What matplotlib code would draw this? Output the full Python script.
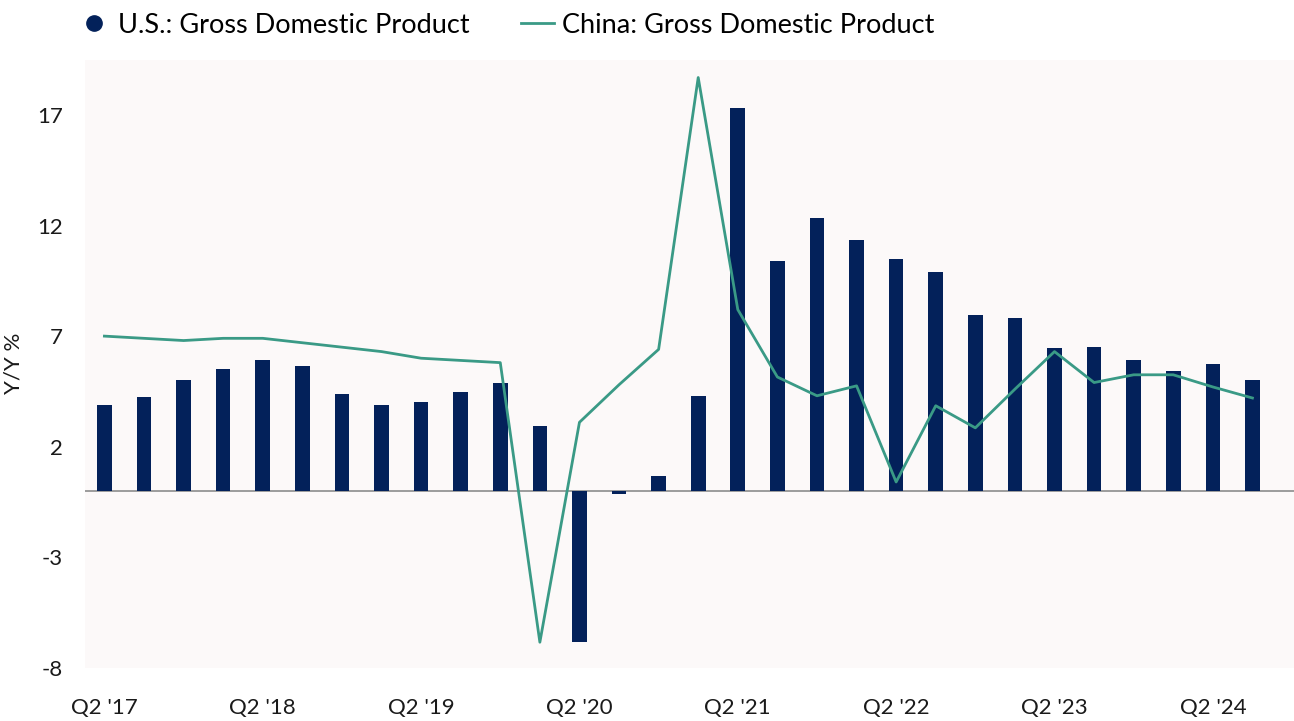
import matplotlib.pyplot as plt
from matplotlib.lines import Line2D

plt.rcParams['font.family'] = ['Lato', 'DejaVu Sans']
plt.rcParams['axes.unicode_minus'] = False

quarters = ["Q2 '17", "Q3 '17", "Q4 '17", "Q1 '18", "Q2 '18", "Q3 '18", "Q4 '18", "Q1 '19",
            "Q2 '19", "Q3 '19", "Q4 '19", "Q1 '20", "Q2 '20", "Q3 '20", "Q4 '20", "Q1 '21",
            "Q2 '21", "Q3 '21", "Q4 '21", "Q1 '22", "Q2 '22", "Q3 '22", "Q4 '22", "Q1 '23",
            "Q2 '23", "Q3 '23", "Q4 '23", "Q1 '24", "Q2 '24", "Q3 '24"]

us_gdp = [3.9, 4.25, 5.0, 5.5, 5.9, 5.65, 4.4, 3.9, 4.0, 4.45, 4.9, 2.95, -6.85, -0.15, 0.65, 4.3,
          17.3, 10.4, 12.35, 11.35, 10.5, 9.9, 7.95, 7.8, 6.45, 6.5, 5.9, 5.4, 5.75, 5.0]

china_gdp = [7.0, 6.9, 6.8, 6.9, 6.9, 6.7, 6.5, 6.3, 6.0, 5.9, 5.8, -6.85, 3.1, 4.8, 6.4, 18.7,
             8.2, 5.15, 4.3, 4.75, 0.4, 3.85, 2.85, 4.6, 6.3, 4.9, 5.25, 5.25, 4.7, 4.2]

tick_idx = [0, 4, 8, 12, 16, 20, 24, 28]
yticks = [-8, -3, 2, 7, 12, 17]

navy = '#03215a'
teal = '#3a9a86'

fig = plt.figure(figsize=(12.94, 7.21), dpi=100)
ax = fig.add_axes([0.066, 0.074, 0.934, 0.843])
ax.set_facecolor('#fcf9f9')

x = list(range(len(quarters)))
ax.bar(x, us_gdp, width=0.37, color=navy, zorder=2)
ax.plot(x, china_gdp, color=teal, lw=2, zorder=3)
ax.axhline(0, color='#8c8c8c', lw=1.2, zorder=1)

ax.set_xlim(-0.48, 30.05)
ax.set_ylim(-8, 19.5)
ax.set_yticks(yticks)
ax.set_xticks(tick_idx)
ax.set_xticklabels([quarters[i] for i in tick_idx])
ax.tick_params(axis='both', length=0, labelsize=16, colors='#1a1a1a')
ax.tick_params(axis='x', pad=22)
ax.tick_params(axis='y', pad=16)
ax.set_ylabel('Y/Y %', fontsize=16, color='#1a1a1a', labelpad=10)
for s in ax.spines.values():
    s.set_visible(False)

handles = [Line2D([], [], marker='o', color=navy, ls='none', markersize=11),
           Line2D([], [], color=teal, lw=2)]
fig.legend(handles, ['U.S.: Gross Domestic Product', 'China: Gross Domestic Product'],
           loc='center left', bbox_to_anchor=(0.041, 0.965), ncol=2, frameon=False,
           fontsize=19.5, handlelength=1.2, handletextpad=0.3, columnspacing=1.9)

fig.savefig('out.png', dpi=100, facecolor='white')
